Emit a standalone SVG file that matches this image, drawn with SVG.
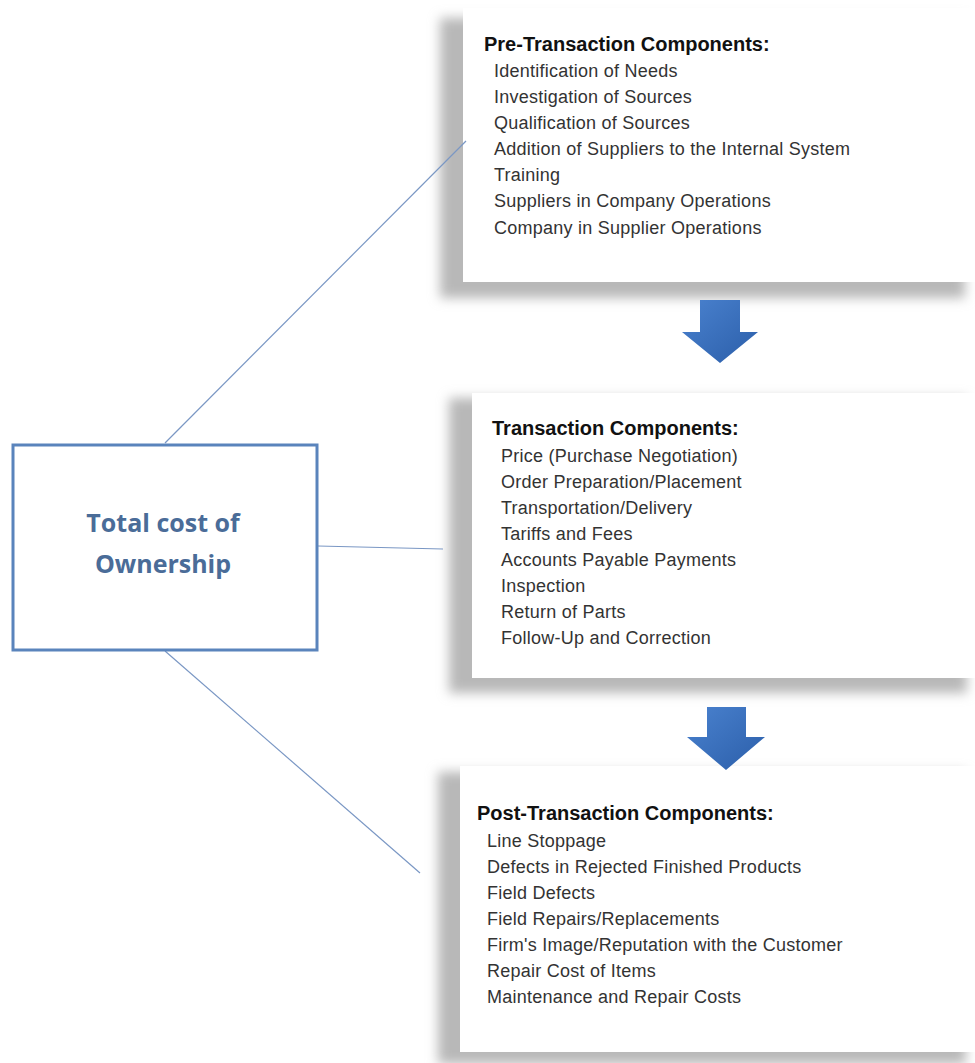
<svg xmlns="http://www.w3.org/2000/svg" width="975" height="1063" viewBox="0 0 975 1063">
<style>
.shadow{fill:#b8b8b8;filter:url(#blur)}
.card{fill:#ffffff}
.head{font-family:"Liberation Sans",Arial,sans-serif;font-weight:bold;font-size:20px;fill:#111111}
.item{font-family:"Liberation Sans",Arial,sans-serif;font-size:18px;letter-spacing:0.25px;fill:#333333}
.main{font-family:"Open Sans","Liberation Sans",sans-serif;font-weight:bold;font-size:25px;fill:#4a6c98}
.conn{stroke:#7a97c4;stroke-width:1.2;fill:none}
.arrow{fill:url(#blue)}
</style>
<defs>
<filter id="blur" x="-10%" y="-10%" width="120%" height="120%"><feGaussianBlur stdDeviation="6"/></filter>
<linearGradient id="blue" x1="0" y1="0" x2="1" y2="1">
<stop offset="0" stop-color="#4a82cf"/>
<stop offset="1" stop-color="#2b5ea9"/>
</linearGradient>
</defs>
<rect width="975" height="1063" fill="#ffffff"/>
<g id="pre-transaction">
<rect class="shadow" x="440" y="18" width="525" height="280"/>
<rect class="card" x="463" y="8" width="512" height="274"/>
<text class="head" x="484" y="51">Pre-Transaction Components:</text>
<text class="item" x="494" y="77">Identification of Needs</text>
<text class="item" x="494" y="103">Investigation of Sources</text>
<text class="item" x="494" y="129">Qualification of Sources</text>
<text class="item" x="494" y="155">Addition of Suppliers to the Internal System</text>
<text class="item" x="494" y="181">Training</text>
<text class="item" x="494" y="207">Suppliers in Company Operations</text>
<text class="item" x="494" y="234">Company in Supplier Operations</text>
</g>
<g id="transaction">
<rect class="shadow" x="449" y="398" width="518" height="295"/>
<rect class="card" x="472" y="393" width="503" height="285"/>
<text class="head" x="492" y="435">Transaction Components:</text>
<text class="item" x="501" y="462">Price (Purchase Negotiation)</text>
<text class="item" x="501" y="488">Order Preparation/Placement</text>
<text class="item" x="501" y="514">Transportation/Delivery</text>
<text class="item" x="501" y="540">Tariffs and Fees</text>
<text class="item" x="501" y="566">Accounts Payable Payments</text>
<text class="item" x="501" y="592">Inspection</text>
<text class="item" x="501" y="618">Return of Parts</text>
<text class="item" x="501" y="644">Follow-Up and Correction</text>
</g>
<g id="post-transaction">
<rect class="shadow" x="438" y="772" width="528" height="292"/>
<rect class="card" x="460" y="766" width="515" height="286"/>
<text class="head" x="477" y="820">Post-Transaction Components:</text>
<text class="item" x="487" y="847">Line Stoppage</text>
<text class="item" x="487" y="873">Defects in Rejected Finished Products</text>
<text class="item" x="487" y="899">Field Defects</text>
<text class="item" x="487" y="925">Field Repairs/Replacements</text>
<text class="item" x="487" y="951">Firm's Image/Reputation with the Customer</text>
<text class="item" x="487" y="977">Repair Cost of Items</text>
<text class="item" x="487" y="1003">Maintenance and Repair Costs</text>
</g>
<g id="arrow1">
<polygon class="arrow" points="700,300 740,300 740,332 758,332 720,363 682,332 700,332"/>
</g>
<g id="arrow2">
<polygon class="arrow" points="707,707 746,707 746,737 765,737 726,770 687,737 707,737"/>
</g>
<g id="connectors">
<line class="conn" x1="165" y1="443" x2="466" y2="141"/>
<line class="conn" x1="318" y1="546" x2="443" y2="549"/>
<line class="conn" x1="165" y1="651" x2="420" y2="873"/>
</g>
<g id="total-cost">
<rect x="13" y="445" width="304" height="205" fill="#ffffff" stroke="#5a84bc" stroke-width="3"/>
<text class="main" x="163" y="532" text-anchor="middle">Total cost of</text>
<text class="main" x="163" y="573" text-anchor="middle">Ownership</text>
</g>
</svg>
